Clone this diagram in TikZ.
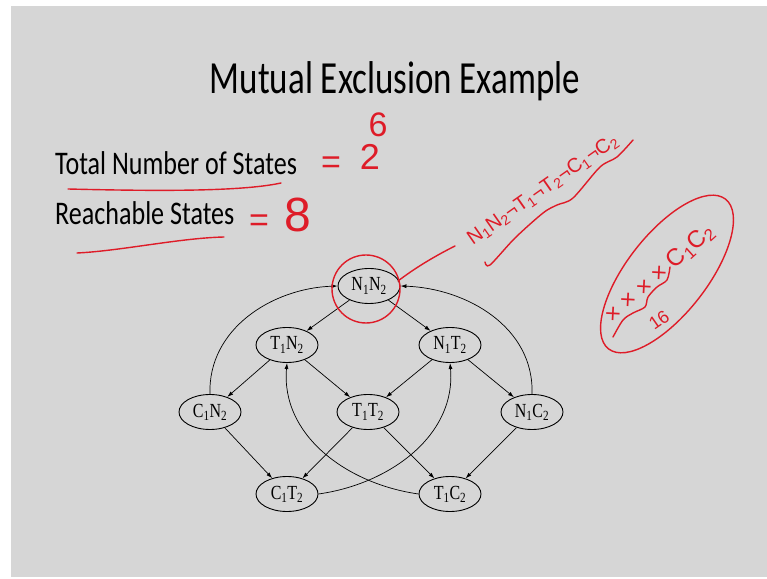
\documentclass[tikz,border=0pt]{standalone}
\usepackage{fontspec}
\usetikzlibrary{shapes.geometric,arrows.meta}
\newfontfamily\tms{Liberation Serif}
\newfontfamily\calfont{Carlito}
\newfontfamily\handfont{Liberation Sans}
\newcommand{\sq}[1]{\scalebox{0.76}[1]{#1}}
\newcommand{\sqb}[1]{\scalebox{0.79}[1]{#1}}
\newcommand{\sqn}[1]{\scalebox{0.8}[1]{#1}}
\definecolor{slidegray}{RGB}{214,214,214}
\definecolor{ink}{RGB}{222,28,40}
\tikzset{
  stnode/.style={ellipse, draw, line width=0.9pt, minimum width=62pt, minimum height=35pt, inner sep=0pt, font=\tms\fontsize{20}{20}\selectfont},
  conn/.style={-{Latex[length=6pt,width=4pt]}, line width=0.7pt},
  redpen/.style={draw=ink, line width=1.4pt, line cap=round, line join=round},
  redtxt/.style={text=ink, inner sep=0pt, font=\handfont}
}
\begin{document}
\begin{tikzpicture}[x=1pt,y=1pt]
\useasboundingbox (0,0) rectangle (767,578);
\fill[white] (0,0) rectangle (767,578);
\fill[slidegray] (11,1) rectangle (767,572);
% title and texts
\node[inner sep=0pt, font=\calfont\fontsize{46}{50}\selectfont] (title) at (395,497) {\sq{Mutual Exclusion Example}};
\node[anchor=base west, inner sep=0pt, font=\calfont\fontsize{33}{36}\selectfont] (total) at (55,403) {\sqb{Total Number of States}};
\node[anchor=base west, inner sep=0pt, font=\calfont\fontsize{33}{36}\selectfont] (reach) at (55,353) {\sqb{Reachable States}};
% graph nodes
\node[stnode] (n1n2) at (369,292) {\sqn{N\textsubscript{1}N\textsubscript{2}}};
\node[stnode] (t1n2) at (287,233) {\sqn{T\textsubscript{1}N\textsubscript{2}}};
\node[stnode] (n1t2) at (450,233) {\sqn{N\textsubscript{1}T\textsubscript{2}}};
\node[stnode] (c1n2) at (210,166) {\sqn{C\textsubscript{1}N\textsubscript{2}}};
\node[stnode] (t1t2) at (368,166) {\sqn{T\textsubscript{1}T\textsubscript{2}}};
\node[stnode] (n1c2) at (532,166) {\sqn{N\textsubscript{1}C\textsubscript{2}}};
\node[stnode] (c1t2) at (287,84) {\sqn{C\textsubscript{1}T\textsubscript{2}}};
\node[stnode] (t1c2) at (450,84) {\sqn{T\textsubscript{1}C\textsubscript{2}}};
% straight edges
\draw[conn] (n1n2) -- (t1n2);
\draw[conn] (n1n2) -- (n1t2);
\draw[conn] (t1n2) -- (c1n2);
\draw[conn] (t1n2) -- (t1t2);
\draw[conn] (n1t2) -- (t1t2);
\draw[conn] (n1t2) -- (n1c2);
\draw[conn] (c1n2) -- (c1t2);
\draw[conn] (t1t2) -- (c1t2);
\draw[conn] (t1t2) -- (t1c2);
\draw[conn] (n1c2) -- (t1c2);
% curved edges
\draw[conn] (c1n2.north) to[out=92,in=182] (n1n2.west);
\draw[conn] (n1c2.north) to[out=88,in=-2] (n1n2.east);
\draw[conn] (c1t2.east) to[out=8,in=-85] (n1t2.south);
\draw[conn] (t1c2.west) to[out=172,in=-95] (t1n2.south);
% red handwriting
\draw[redpen] (68,389) .. controls (150,387) and (240,386) .. (281,395);
\draw[redpen] (77,325) .. controls (120,327) and (180,340) .. (224,341);
\node[redtxt, font=\handfont\fontsize{34}{34}\selectfont] (eq1) at (331,413) {=};
\node[redtxt, font=\handfont\fontsize{36}{36}\selectfont] (two) at (370,421) {2};
\node[redtxt, font=\handfont\fontsize{34}{34}\selectfont] (six) at (378,453) {6};
\node[redtxt, font=\handfont\fontsize{34}{34}\selectfont] (eq2) at (259,355) {=};
\node[redtxt, font=\handfont\fontsize{48}{48}\selectfont] (eight) at (298,363) {8};
\node[redtxt, rotate=35, font=\handfont\fontsize{20}{20}\selectfont] (neg) at (543,388) {N\textsubscript{1}N\textsubscript{2}¬T\textsubscript{1}¬T\textsubscript{2}¬C\textsubscript{1}¬C\textsubscript{2}};
\draw[redpen] plot[smooth] coordinates {(485,316) (490,313) (515,340) (543,365) (557,373) (573,380) (600,411) (617,421) (633,438)};
\draw[redpen] (366,289) ellipse[x radius=34, y radius=34];
\coordinate (tailA) at (398,297);
\coordinate (tailB) at (455,332);
\draw[redpen] (tailA) .. controls (415,310) and (435,322) .. (tailB);
\draw[redpen, rotate around={52:(667,304)}] (667,304) ellipse[x radius=95, y radius=40];
\node[redtxt, rotate=42, font=\handfont\fontsize{24}{24}\selectfont] (xs) at (660,304) {× × × × C\textsubscript{1}C\textsubscript{2}};
\draw[redpen] plot[smooth] coordinates {(613,241) (623,258) (633,265) (645,271) (648,281) (657,291) (667,298) (670,311)};
\node[redtxt, rotate=35, font=\handfont\fontsize{18}{18}\selectfont] (sixteen) at (659,258) {16};
\end{tikzpicture}
\end{document}
